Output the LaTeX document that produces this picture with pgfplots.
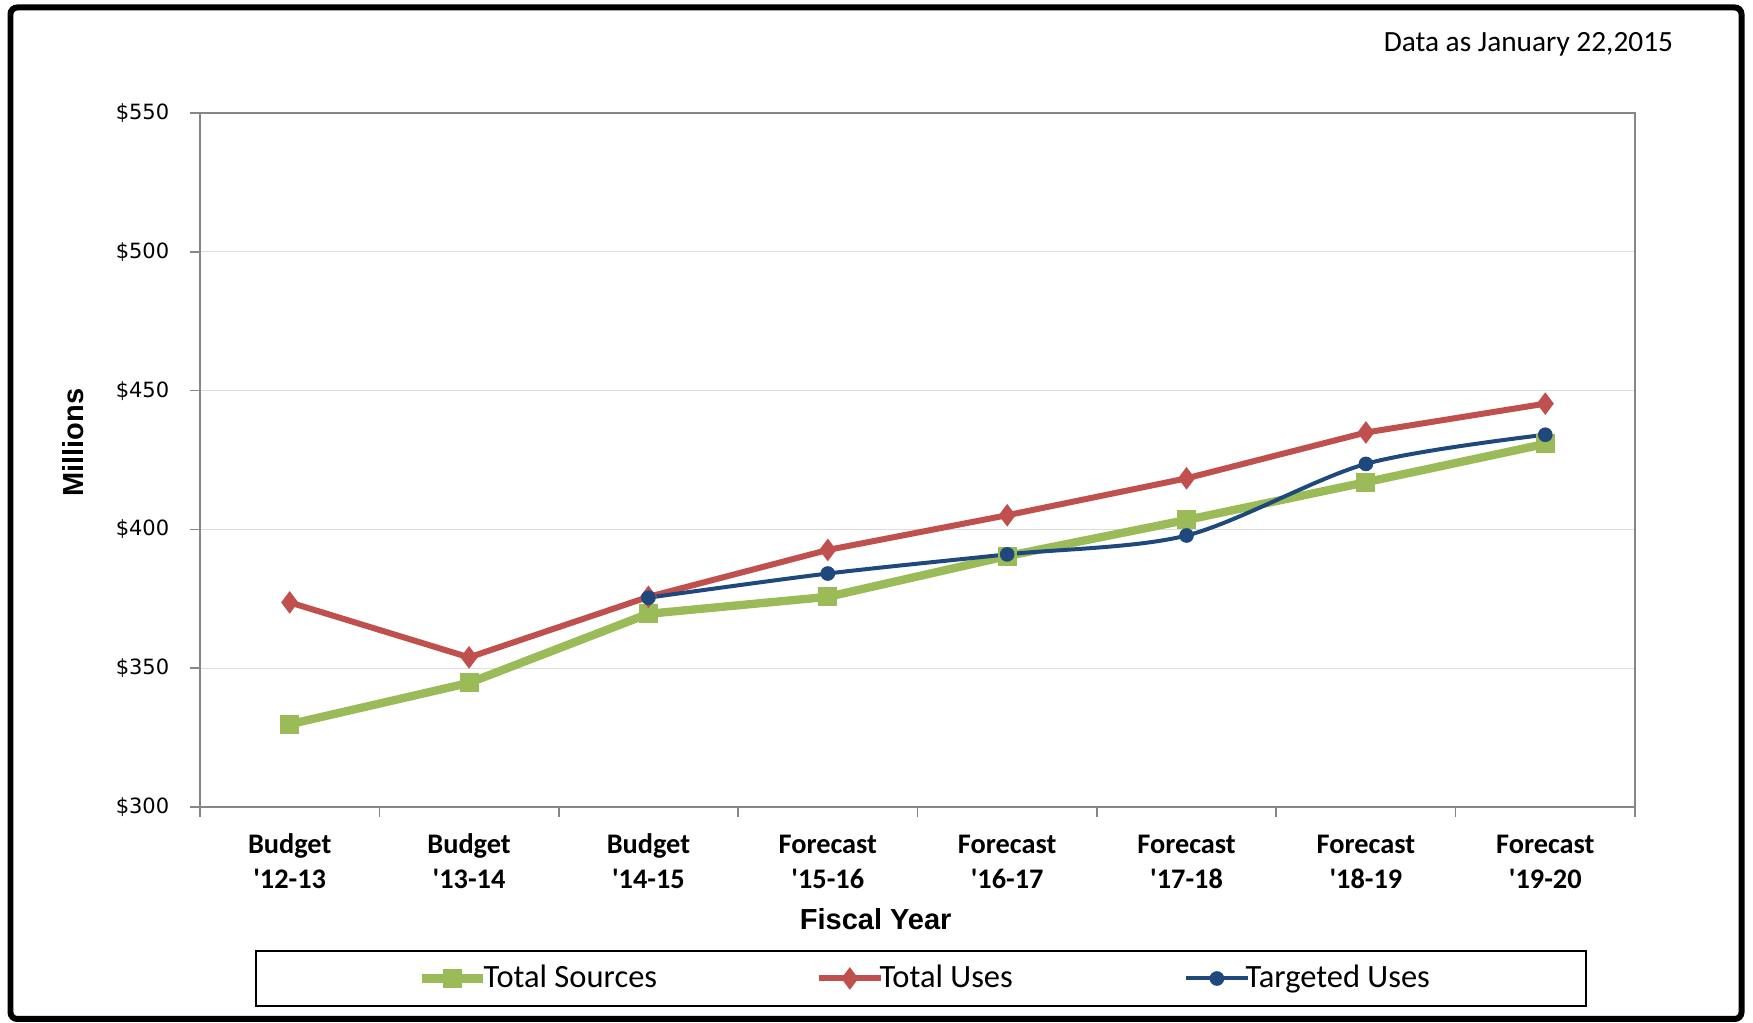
\documentclass[border=0pt]{standalone}
\usepackage{fontspec}
\setmainfont{Carlito}
\newfontfamily\arialf{Liberation Sans}
\newfontfamily\dejaf{DejaVu Sans}
\usepackage{pgfplots}
\pgfplotsset{compat=1.18}
\definecolor{cgreen}{HTML}{9BBB59}
\definecolor{cred}{HTML}{C0504D}
\definecolor{cblue}{HTML}{1F497D}
\definecolor{axgray}{HTML}{868686}
\definecolor{gridc}{HTML}{DDDDDD}
\begin{document}
\begin{tikzpicture}
\useasboundingbox (0,0) rectangle (525.9pt,-306.9pt);
\begin{axis}[
  at={(60pt,-242.1pt)}, anchor=south west,
  scale only axis, width=430.5pt, height=208.2pt,
  xmin=-0.5, xmax=7.5, ymin=300, ymax=550,
  xtick={0,...,7},
  xticklabels={{\strut Budget\\\textquotesingle 12-13},{\strut Budget\\\textquotesingle 13-14},{\strut Budget\\\textquotesingle 14-15},{\strut Forecast\\\textquotesingle 15-16},{\strut Forecast\\\textquotesingle 16-17},{\strut Forecast\\\textquotesingle 17-18},{\strut Forecast\\\textquotesingle 18-19},{\strut Forecast\\\textquotesingle 19-20}},
  xticklabel style={align=center, font=\fontsize{8.5}{10.5}\selectfont\bfseries, yshift=-0.2pt},
  minor xtick={-0.5,0.5,...,7.5},
  ytick={300,350,400,450,500,550},
  yticklabels={\$300,\$350,\$400,\$450,\$500,\$550},
  yticklabel style={font=\dejaf\fontsize{6.3}{7}\selectfont, xshift=-2.7pt},
  tick align=outside, tick pos=left,
  major tick length=3pt, minor tick length=3pt,
  major x tick style={draw=none},
  minor x tick style={draw=axgray, line width=0.5pt},
  ytick style={draw=axgray, line width=0.5pt},
  ymajorgrids, major grid style={draw=gridc, line width=0.4pt},
  axis line style={draw=axgray, line width=0.6pt},
  legend columns=3,
  legend style={draw=none, fill=none, at={(0.5045,-0.2471)}, anchor=center,
    font=\fontsize{9.75}{11}\selectfont,
    /tikz/column 2/.append style={column sep=47.7pt},
    /tikz/column 4/.append style={column sep=51.4pt},
    /tikz/every odd column/.append style={column sep=-1.2pt},
    nodes={inner ysep=1pt, inner xsep=0pt}},
  legend image code/.code={\draw[mark repeat=2,mark phase=2] plot coordinates {(0pt,0pt)(9.2pt,0pt)(18.4pt,0pt)};},
]
\addplot[cgreen, line width=2.5pt, mark=square*, mark size=2.6pt, mark options={rounded corners=0.7pt, line width=0.5pt}]
 coordinates {(0,329.8)(1,344.7)(2,369.6)(3,375.7)(4,390.4)(5,403.4)(6,417.0)(7,430.8)};
\addlegendentry{Total Sources}
\addplot[cred, line width=1.8pt, mark=diamond*, mark size=3pt, mark options={line width=0.5pt}]
 coordinates {(0,373.7)(1,353.9)(2,375.7)(3,392.6)(4,405.1)(5,418.4)(6,434.9)(7,445.3)};
\addlegendentry{Total Uses}
\addplot[cblue, line width=1.2pt, smooth, mark=*, mark size=2pt, mark options={line width=0.4pt}]
 coordinates {(2,375.4)(3,384.1)(4,391.0)(5,397.8)(6,423.6)(7,434.1)};
\addlegendentry{Targeted Uses}
\end{axis}
\node[font=\fontsize{8.8}{10}\selectfont, anchor=east, inner sep=0pt] at (502.1pt,-13.4pt) {Data as January 22,2015};
\node[font=\arialf\bfseries\fontsize{8.7}{10}\selectfont] at (262.7pt,-275.7pt) {Fiscal Year};
\node[font=\arialf\bfseries\fontsize{8.7}{10}\selectfont, rotate=90] at (21.8pt,-132.8pt) {Millions};
\draw[black, line width=0.8pt] (76.8pt,-285.3pt) rectangle (475.8pt,-301.8pt);
\draw[black, line width=1.8pt, rounded corners=2pt] (3.15pt,-2.25pt) rectangle (522.45pt,-305.7pt);
\end{tikzpicture}
\end{document}
